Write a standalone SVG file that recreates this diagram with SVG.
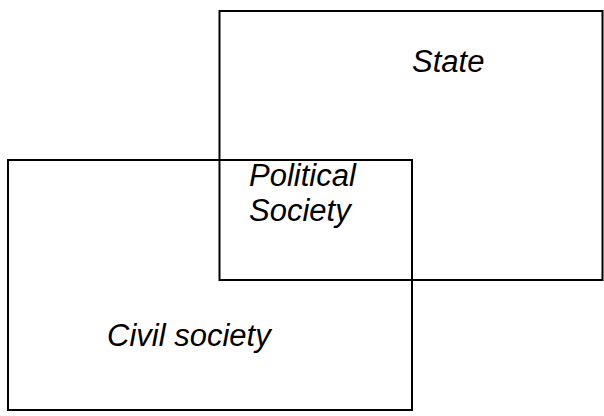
<svg xmlns="http://www.w3.org/2000/svg" width="604" height="416" viewBox="0 0 604 416">
  <style>
    .box { fill: none; stroke: #000; stroke-width: 2; }
    .lbl { font-family: "Liberation Sans", Arial, sans-serif; font-style: italic; font-size: 31px; fill: #000; }
  </style>
  <rect width="604" height="416" fill="#fff"/>
  <g id="state">
    <rect class="box" x="219.5" y="11" width="383" height="269"/>
    <text class="lbl" x="412" y="72">State</text>
  </g>
  <g id="civil-society">
    <rect class="box" x="8" y="160" width="404" height="250"/>
    <text class="lbl" x="107" y="346">Civil society</text>
  </g>
  <g id="political-society">
    <text class="lbl" x="249" y="186">Political</text>
    <text class="lbl" x="249" y="221">Society</text>
  </g>
</svg>
